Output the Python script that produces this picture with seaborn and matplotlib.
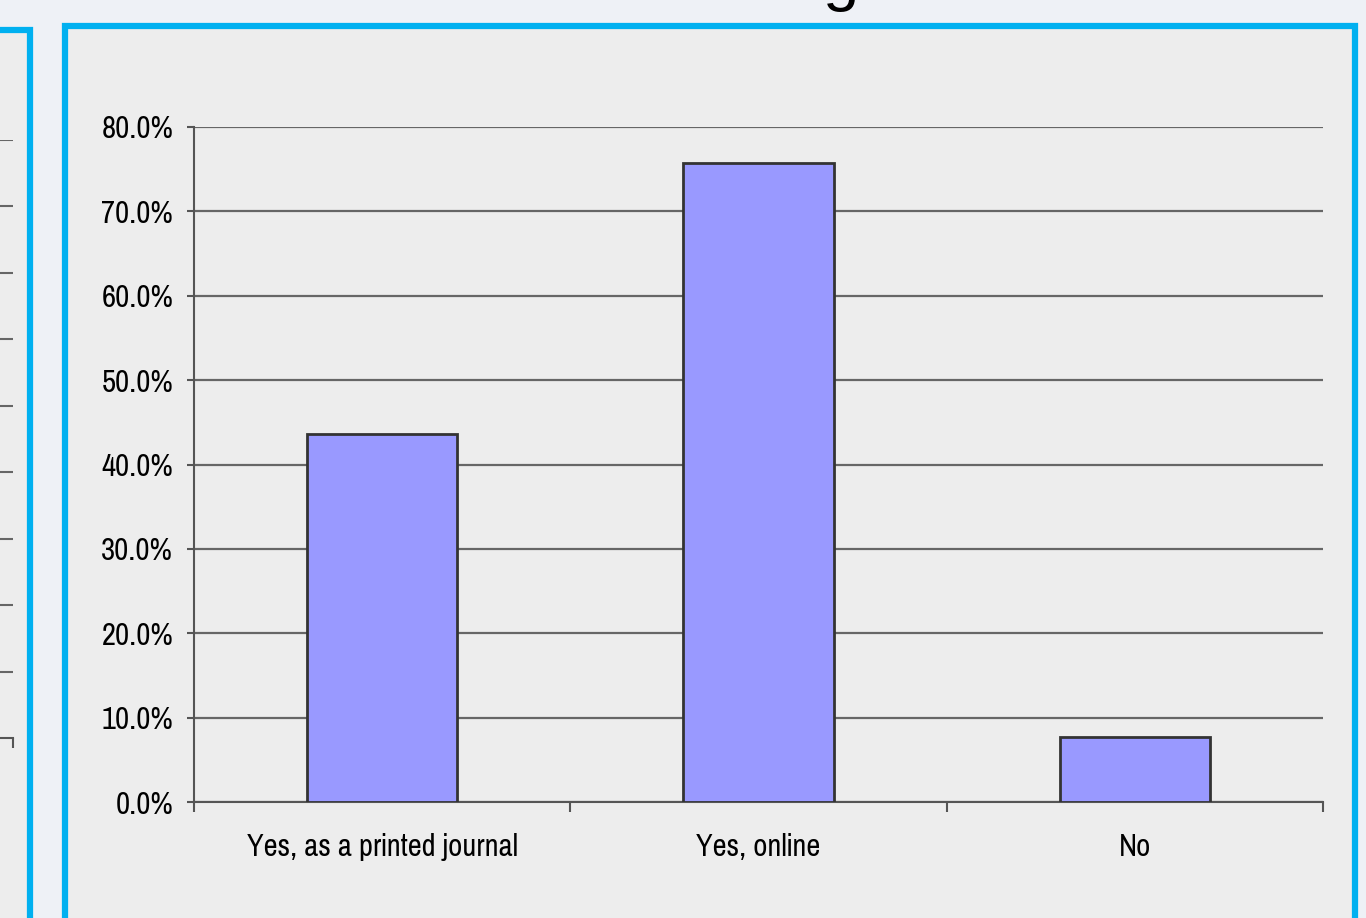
import matplotlib
matplotlib.use("Agg")
import matplotlib.pyplot as plt
import seaborn as sns
import numpy as np
import pandas as pd
from matplotlib.patches import Rectangle
from matplotlib.ticker import FixedLocator, PercentFormatter

categories = ["Yes, as a printed journal", "Yes, online", "No"]
values = [0.436, 0.757, 0.077]
y_ticks = [0.0, 0.1, 0.2, 0.3, 0.4, 0.5, 0.6, 0.7, 0.8]

sns.set_theme(style="white")
plt.rcParams['font.family'] = ['Pragati Narrow', 'Roboto Condensed', 'DejaVu Sans']

W, H = 1366, 918
fig = plt.figure(figsize=(W / 100, H / 100), dpi=100, facecolor="#eef1f6")

def fx(px):
    return px / W

def fy(py):
    return 1 - py / H

cyan = "#00b0f0"
inner = "#ededed"
# left (partial) panel
fig.patches.append(Rectangle((fx(-10), fy(H + 10)), fx(40), fy(30) - fy(H + 10),
                             transform=fig.transFigure, facecolor=inner,
                             edgecolor=cyan, linewidth=4.5, zorder=-5))
# main panel
fig.patches.append(Rectangle((fx(65), fy(H + 10)), fx(1355) - fx(65), fy(26) - fy(H + 10),
                             transform=fig.transFigure, facecolor=inner,
                             edgecolor=cyan, linewidth=4.5, zorder=-5))

# partial title glyph at the top (title itself lies above the visible area)
fig.text(fx(840), 1 + 1 / H, "g", ha="center", va="baseline", fontsize=47,
         family=["Liberation Sans", "DejaVu Sans"], color="black")

# left partial chart (only right edge visible)
axl = fig.add_axes([fx(-300), fy(738), fx(13) - fx(-300), fy(140) - fy(738)])
axl.set_facecolor("none")
axl.set_xlim(0, 1)
axl.set_ylim(0, 9)
axl.yaxis.set_major_locator(FixedLocator(list(range(1, 10))))
axl.grid(axis="y", color="#666666", linewidth=1.5)
axl.grid(axis="x", visible=False)
for s in ["top", "right", "left"]:
    axl.spines[s].set_visible(False)
axl.spines["bottom"].set_color("#555555")
axl.spines["bottom"].set_linewidth(1.5)
axl.set_xticks([1])
axl.set_xticklabels([""])
axl.tick_params(axis="x", direction="out", length=7, width=1.5, color="#555555", bottom=True)
axl.tick_params(axis="y", left=False, labelleft=False)

# main chart
ax = fig.add_axes([fx(194), fy(802), fx(1323) - fx(194), fy(127) - fy(802)])
ax.set_facecolor("none")
df = pd.DataFrame({"cat": categories, "val": values})
sns.barplot(data=df, x="cat", y="val", color="#9999ff", saturation=1,
            edgecolor="#333333", linewidth=2, width=0.4, ax=ax, zorder=3)
ax.set_xlim(-0.5, len(categories) - 0.5)
ax.set_ylim(0, 0.8)
ax.set_yticks(y_ticks)
ax.yaxis.set_major_formatter(PercentFormatter(1.0, decimals=1))
ax.set_axisbelow(True)
ax.grid(axis="y", color="#666666", linewidth=1.6, zorder=0)
ax.grid(axis="x", visible=False)
for s in ["top", "right"]:
    ax.spines[s].set_visible(False)
for s in ["left", "bottom"]:
    ax.spines[s].set_color("#555555")
    ax.spines[s].set_linewidth(1.5)
ax.set_xticks([i - 0.5 for i in range(len(categories) + 1)])
ax.set_xticklabels([""] * (len(categories) + 1))
ax.set_xticks(list(range(len(categories))), minor=True)
ax.set_xticklabels(categories, minor=True)
ax.tick_params(axis="x", which="major", direction="out", length=7, width=1.5,
               color="#555555", bottom=True)
ax.tick_params(axis="x", which="minor", length=0, pad=22, labelsize=24, labelcolor="black")
ax.tick_params(axis="y", direction="out", length=5, width=1.5, color="#555555",
               left=True, pad=10, labelsize=24, labelcolor="black")
ax.set_xlabel("")
ax.set_ylabel("")

fig.savefig("out.png", dpi=100, facecolor=fig.get_facecolor())
